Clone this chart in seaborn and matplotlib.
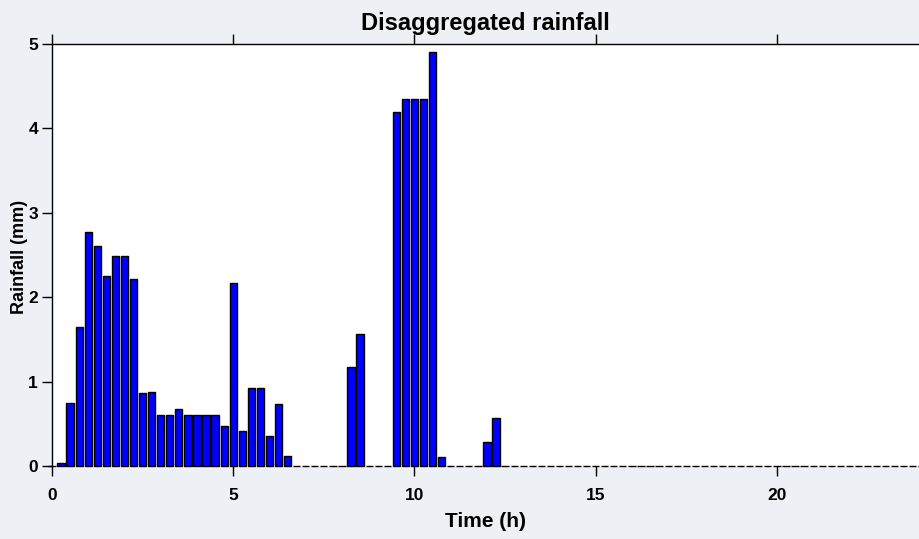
import numpy as np
import pandas as pd
import matplotlib
matplotlib.use("Agg")
import matplotlib.pyplot as plt
import seaborn as sns

# 15-minute rainfall depths (mm), one value per interval ending at the given time
time_h = np.arange(0.0, 24.01, 0.25)
rain_mm = [
    0.0,
    0.03, 0.75, 1.65, 2.77, 2.61, 2.25, 2.49, 2.49, 2.22, 0.86, 0.88, 0.61, 0.61,
    0.67, 0.61, 0.61, 0.61, 0.61, 0.47, 2.17, 0.42, 0.93, 0.92, 0.35, 0.73, 0.12,
    0.0, 0.0, 0.0, 0.0, 0.0, 0.0,
    1.17, 1.56,
    0.0, 0.0, 0.0,
    4.20, 4.35, 4.35, 4.35, 4.90, 0.11,
    0.0, 0.0, 0.0, 0.0,
    0.28, 0.57,
] + [0.0] * 47

x_ticks = [0, 5, 10, 15, 20]
y_ticks = [0, 1, 2, 3, 4, 5]

df = pd.DataFrame({"time": time_h, "rain": rain_mm})

sns.set_theme(style="white")
narrow = ["Liberation Sans Narrow", "Liberation Sans", "DejaVu Sans"]
wide = ["Liberation Sans", "DejaVu Sans"]

fig = plt.figure(figsize=(9.19, 5.39), dpi=100, facecolor="#edf0f5")
ax = fig.add_axes([52 / 919, 73 / 539, 867 / 919, 422 / 539])
ax.set_facecolor("white")

sns.barplot(data=df, x="time", y="rain", native_scale=True, width=0.8,
            color="#0000ff", saturation=1, edgecolor="black", linewidth=1.0,
            ax=ax)
for p in ax.patches:
    p.set_clip_on(False)

ax.set_xlim(0, 23.92)
ax.set_ylim(0, 5)
ax.set_xticks(x_ticks)
ax.set_yticks(y_ticks)
ax.set_xticklabels([str(v) for v in x_ticks], fontfamily=narrow,
                   fontweight="bold", fontsize=12.5)
ax.set_yticklabels([str(v) for v in y_ticks], fontfamily=narrow,
                   fontweight="bold", fontsize=12.5)

ax.tick_params(axis="both", direction="out", length=7, width=1.0,
               color="black", labelcolor="black")
ax.tick_params(axis="x", top=True, bottom=True, pad=9)
ax.tick_params(axis="y", left=True, right=False, pad=3)

for side in ["left", "top"]:
    ax.spines[side].set_visible(True)
    ax.spines[side].set_color("black")
    ax.spines[side].set_linewidth(1.0)
ax.spines["bottom"].set_visible(False)
ax.spines["right"].set_visible(False)

ax.set_title("Disaggregated rainfall", fontfamily=narrow, fontweight="bold",
             fontsize=17, color="black", pad=10)
ax.set_xlabel("Time (h)", fontfamily=narrow, fontweight="bold", fontsize=15,
              color="black")
ax.xaxis.set_label_coords(0.5, -0.108)
ax.set_ylabel("Rainfall (mm)", fontfamily=wide, fontweight="bold", fontsize=13,
              color="black")
ax.yaxis.set_label_coords(-0.028, 0.495)

fig.savefig("out.png", dpi=100, facecolor=fig.get_facecolor())
